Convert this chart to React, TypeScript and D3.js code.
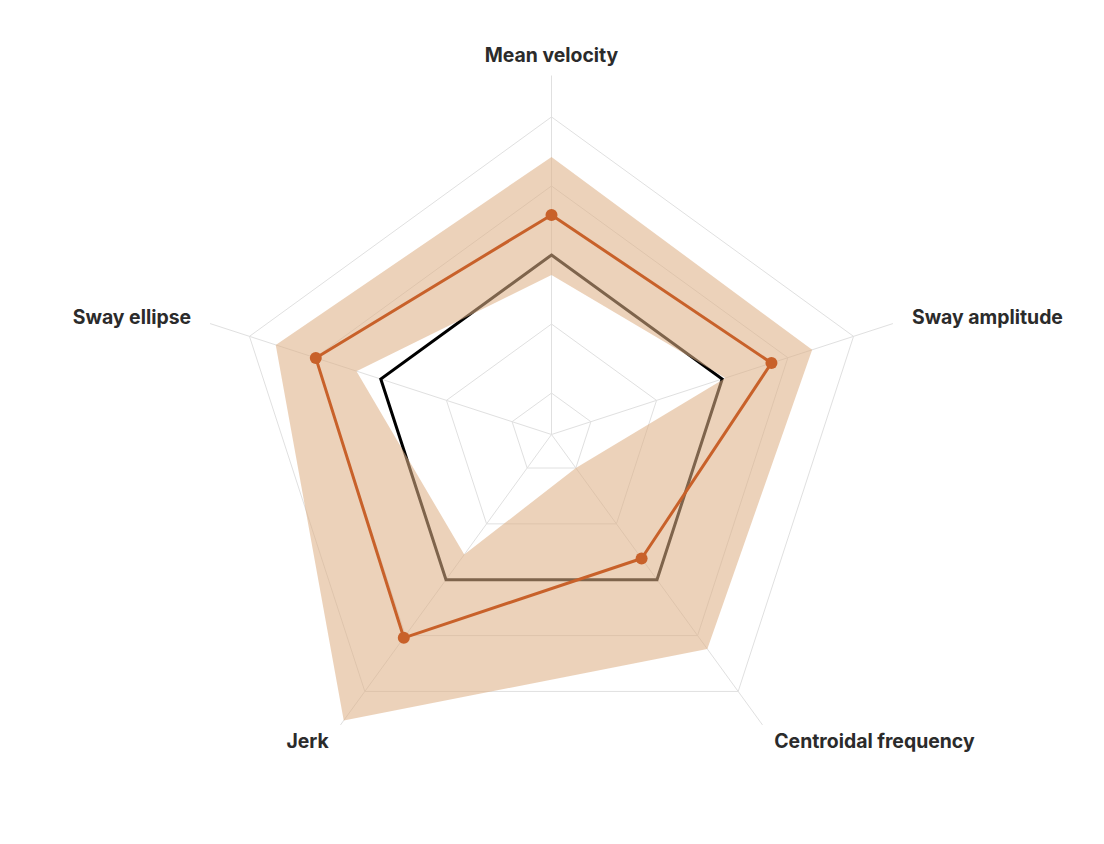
import React from "react";
import * as d3 from "d3";

const axes = ["Mean velocity", "Sway amplitude", "Centroidal frequency", "Jerk", "Sway ellipse"];
const meanValues = [0.58, 0.75, -0.38, 1.04, 0.99];
const upperValues = [1.42, 1.37, 1.24, 2.52, 1.6];
const lowerValues = [-0.29, 0.05, -2.0, -0.45, 0.37];
const referenceValues = [0, 0, 0, 0, 0];
const gridTicks = [-2, -1, 0, 1, 2];
const domain = [-2.6, 2.6];

const W = 1104;
const H = 844;
const cx = 551.5;
const cy = 434.5;
const R = 359;

export default function App() {
  const r = d3.scaleLinear().domain(domain).range([0, R]);
  const angle = d3
    .scaleLinear()
    .domain([0, axes.length])
    .range([0, 2 * Math.PI]);
  const pt = (i: number, v: number): [number, number] => {
    const a = angle(i);
    const rr = r(v);
    return [Math.sin(a) * rr, -Math.cos(a) * rr];
  };
  const lineClosed = d3.line<[number, number]>().curve(d3.curveLinearClosed);
  const poly = (vals: number[]) => lineClosed(vals.map((v, i) => pt(i, v))) as string;

  const bandPath = poly(upperValues) + " " + poly(lowerValues);

  return (
    <svg
      width={W}
      height={H}
      style={{ position: "absolute", left: 0, top: 0, display: "block", background: "#fff" }}
    >
      <g transform={`translate(${cx},${cy})`}>
        {gridTicks.map((t) => (
          <path key={t} d={poly(axes.map(() => t))} fill="none" stroke="#e0e0e0" strokeWidth={1} />
        ))}
        {axes.map((a, i) => {
          const [x, y] = pt(i, domain[1]);
          return <line key={a} x1={0} y1={0} x2={x} y2={y} stroke="#e0e0e0" strokeWidth={1} />;
        })}
        <path d={poly(referenceValues)} fill="none" stroke="#000" strokeWidth={3} strokeLinejoin="miter" />
        <path d={bandPath} fill="rgb(222,176,134)" fillOpacity={0.57} fillRule="evenodd" stroke="none" />
        <path d={poly(meanValues)} fill="none" stroke="#C8612A" strokeWidth={3} strokeLinejoin="round" />
        {meanValues.map((v, i) => {
          const [x, y] = pt(i, v);
          return <circle key={i} cx={x} cy={y} r={6} fill="#C8612A" />;
        })}
        {axes.map((a, i) => {
          const [x, y] = pt(i, domain[1] + 20 / 69);
          const s = Math.sin(angle(i));
          const anchor = Math.abs(s) < 0.01 ? "middle" : s > 0 ? "start" : "end";
          return (
            <text
              key={a}
              x={x}
              y={y}
              dy="0.35em"
              textAnchor={anchor}
              fontFamily="Inter, 'Open Sans', sans-serif"
              fontWeight={700}
              fontSize={19.4}
              fill="#2b2b2b"
            >
              {a}
            </text>
          );
        })}
      </g>
    </svg>
  );
}
